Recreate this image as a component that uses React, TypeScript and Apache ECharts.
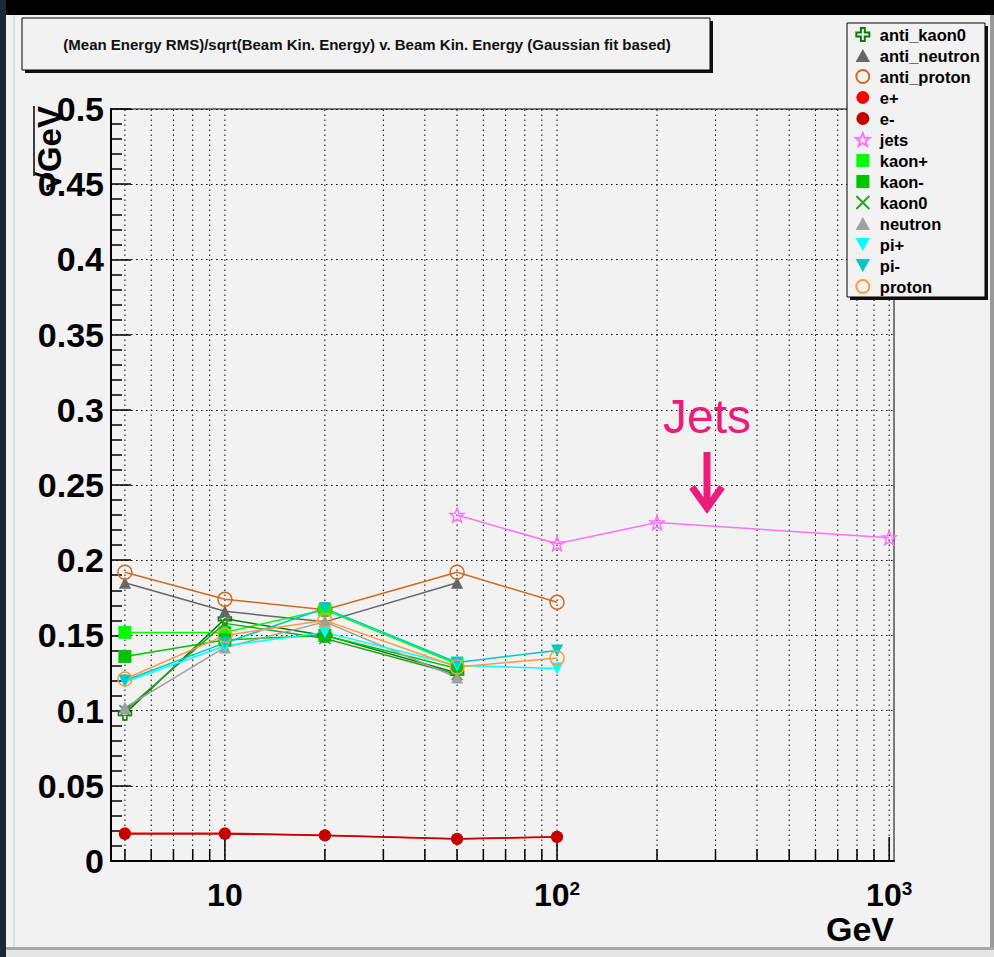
import React, { useEffect, useRef } from 'react';
import * as echarts from 'echarts';

// ---- data ----
const beamEnergies = [5, 10, 20, 50, 100];
const jetEnergies = [50, 100, 200, 1000];

const antiKaon0 = [0.098, 0.161, 0.15, 0.125];
const antiNeutron = [0.185, 0.166, 0.159, 0.185];
const antiProton = [0.192, 0.174, 0.167, 0.192, 0.172];
const ePlus = [0.0185, 0.0185, 0.0172, 0.0148, 0.0162];
const eMinus = [0.018, 0.018, 0.017, 0.0146, 0.016];
const jets = [0.23, 0.211, 0.225, 0.215];
const kaonPlus = [0.152, 0.152, 0.167, 0.131];
const kaonMinus = [0.136, 0.147, 0.15, 0.128];
const kaon0 = [0.1, 0.158, 0.148, 0.124];
const neutron = [0.102, 0.142, 0.159, 0.122];
const piPlus = [0.119, 0.143, 0.152, 0.13, 0.128];
const piMinus = [0.12, 0.145, 0.168, 0.132, 0.14];
const proton = [0.121, 0.15, 0.16, 0.129, 0.135];

const xGridValues = [5, 6, 7, 8, 9, 10, 20, 30, 40, 50, 60, 70, 80, 90, 100, 200, 300, 400, 500, 600, 700, 800, 900, 1000];

const X_MIN = 4.54;
const X_MAX = 1034;
const Y_MIN = 0;
const Y_MAX = 0.5;
const Y_STEP = 0.05;

const TITLE = '(Mean Energy RMS)/sqrt(Beam Kin. Energy) v. Beam Kin. Energy (Gaussian fit based)';
const FONT = '"Liberation Sans", Arial, Helvetica, sans-serif';

const MARK = {
  circle: 'path://M10,5A5,5,0,1,1,0,5A5,5,0,1,1,10,5Z',
  openCircle: 'path://M10,5A5,5,0,1,1,0,5A5,5,0,1,1,10,5Z',
  square: 'path://M0,0H10V10H0Z',
  upTriangle: 'path://M5,0L10,9H0Z',
  openCross: 'path://M3.5,0H6.5V3.5H10V6.5H6.5V10H3.5V6.5H0V3.5H3.5Z',
  xMark: 'path://M0,0L10,10M10,0L0,10',
  downTriangle: 'path://M0,0L10,0L5,9Z',
  openStar: 'path://M5,0L6.23,3.3L9.76,3.46L7,5.65L7.94,9.05L5,7.1L2.06,9.05L3,5.65L0.24,3.46L3.77,3.3Z',
};

type Def = { name: string; xs: number[]; ys: number[]; color: string; symbol: string; size: number; open?: boolean };

const defs: Def[] = [
  { name: 'anti_kaon0', xs: beamEnergies, ys: antiKaon0, color: '#0b7a0b', symbol: MARK.openCross, size: 13, open: true },
  { name: 'anti_neutron', xs: beamEnergies, ys: antiNeutron, color: '#666666', symbol: MARK.upTriangle, size: 12 },
  { name: 'anti_proton', xs: beamEnergies, ys: antiProton, color: '#cf6a1c', symbol: MARK.openCircle, size: 14, open: true },
  { name: 'e+', xs: beamEnergies, ys: ePlus, color: '#ff0000', symbol: MARK.circle, size: 12 },
  { name: 'e-', xs: beamEnergies, ys: eMinus, color: '#c40000', symbol: MARK.circle, size: 12 },
  { name: 'jets', xs: jetEnergies, ys: jets, color: '#ff70ff', symbol: MARK.openStar, size: 14, open: true },
  { name: 'kaon+', xs: beamEnergies, ys: kaonPlus, color: '#00ff00', symbol: MARK.square, size: 13 },
  { name: 'kaon-', xs: beamEnergies, ys: kaonMinus, color: '#00c400', symbol: MARK.square, size: 13 },
  { name: 'kaon0', xs: beamEnergies, ys: kaon0, color: '#2aa02a', symbol: MARK.xMark, size: 11, open: true },
  { name: 'neutron', xs: beamEnergies, ys: neutron, color: '#a0a0a0', symbol: MARK.upTriangle, size: 12 },
  { name: 'pi+', xs: beamEnergies, ys: piPlus, color: '#00ffff', symbol: MARK.downTriangle, size: 12 },
  { name: 'pi-', xs: beamEnergies, ys: piMinus, color: '#00c8c8', symbol: MARK.downTriangle, size: 12 },
  { name: 'proton', xs: beamEnergies, ys: proton, color: '#ff9a3c', symbol: MARK.openCircle, size: 14, open: true },
];

const isDecade = (v: number) => {
  const l = Math.log10(v);
  return Math.abs(l - Math.round(l)) < 1e-6;
};

export default function App() {
  const ref = useRef<HTMLDivElement>(null);

  useEffect(() => {
    if (!ref.current) return;
    const chart = echarts.init(ref.current, null, { renderer: 'svg' });

    const lineSeries = defs.map((d) => ({
      name: d.name,
      type: 'line',
      data: d.ys.map((y, i) => [d.xs[i], y]),
      symbol: d.symbol,
      symbolSize: d.size,
      showAllSymbol: true,
      lineStyle: { color: d.color, width: 1.5 },
      itemStyle: d.open
        ? { color: 'rgba(0,0,0,0)', borderColor: d.color, borderWidth: 1.5 }
        : { color: d.color, borderWidth: 0 },
      emphasis: { disabled: true },
      z: 3,
    }));

    const gridSeries = {
      name: '__xgrid',
      type: 'custom',
      silent: true,
      z: 1,
      data: xGridValues.map((v) => [v, Y_MIN]),
      encode: { x: 0, y: 1 },
      renderItem: (_params: any, api: any) => {
        const v = api.value(0);
        const base = api.coord([v, Y_MIN]);
        const top = api.coord([v, Y_MAX]);
        const major = isDecade(v);
        return {
          type: 'group',
          children: [
            {
              type: 'line',
              shape: { x1: base[0], y1: base[1], x2: top[0], y2: top[1] },
              style: { stroke: '#000', lineWidth: 1, lineDash: [1.5, 3.5] },
            },
            {
              type: 'line',
              shape: { x1: base[0], y1: base[1], x2: base[0], y2: base[1] - (major ? 24 : 12) },
              style: { stroke: '#000', lineWidth: 1.5 },
            },
          ],
        };
      },
    };

    const option: any = {
      animation: false,
      backgroundColor: '#f2f2f2',
      textStyle: { fontFamily: FONT },
      grid: {
        left: 111,
        right: 100,
        top: 109,
        bottom: 96,
        show: true,
        borderColor: '#000',
        borderWidth: 1,
        backgroundColor: 'transparent',
        outerBoundsMode: 'none',
        containLabel: false,
      },
      xAxis: {
        type: 'log',
        logBase: 10,
        min: X_MIN,
        max: X_MAX,
        axisLine: { show: true, lineStyle: { color: '#000', width: 2 } },
        axisTick: { show: false },
        splitLine: { show: false },
        axisLabel: {
          interval: 0,
          margin: 18,
          formatter: (v: number) => {
            if (!isDecade(v)) return '';
            const e = Math.round(Math.log10(v));
            return e === 1 ? '{b|10}' : `{b|10}{s|${e}}`;
          },
          rich: {
            b: { fontSize: 32, fontWeight: 'bold', fontFamily: FONT, color: '#000', lineHeight: 32 },
            s: { fontSize: 19, fontWeight: 'bold', fontFamily: FONT, color: '#000', lineHeight: 11, verticalAlign: 'top' },
          },
        },
      },
      yAxis: {
        type: 'value',
        min: Y_MIN,
        max: Y_MAX,
        interval: Y_STEP,
        axisLine: { show: true, lineStyle: { color: '#000', width: 2 } },
        axisTick: { show: true, inside: true, length: 20, lineStyle: { color: '#000', width: 1.5 } },
        minorTick: { show: true, splitNumber: 5, length: 11, lineStyle: { color: '#000', width: 1.5 } },
        splitLine: { show: true, lineStyle: { color: '#000', width: 1, type: [1.5, 3.5] } },
        axisLabel: {
          margin: 7,
          fontSize: 34,
          fontWeight: 'bold',
          fontFamily: FONT,
          color: '#000',
          formatter: (v: number) => (v === 0 ? '0' : String(parseFloat(v.toFixed(2)))),
        },
      },
      legend: {
        show: true,
        orient: 'vertical',
        left: 847,
        top: 23,
        padding: [3, 0, 3, 8],
        itemGap: 4,
        itemWidth: 24,
        itemHeight: 13,
        selectedMode: false,
        textStyle: { fontSize: 16.5, fontWeight: 'bold', color: '#000', fontFamily: FONT, lineHeight: 17 },
        data: defs.map((d) => ({ name: d.name, icon: d.symbol })),
        z: 20,
      },
      graphic: [
        // canvas frame
        { type: 'rect', z: -10, shape: { x: 0, y: 0, width: 994, height: 15 }, style: { fill: '#000' } },
        { type: 'rect', z: -10, shape: { x: 0, y: 0, width: 6, height: 957 }, style: { fill: '#1c2838' } },
        { type: 'line', z: -10, shape: { x1: 14, y1: 15, x2: 14, y2: 947 }, style: { stroke: '#c4c4c4', lineWidth: 1 } },
        { type: 'rect', z: -10, shape: { x: 6, y: 947, width: 988, height: 3 }, style: { fill: '#a8a8a8' } },
        { type: 'rect', z: -10, shape: { x: 6, y: 950, width: 988, height: 7 }, style: { fill: '#e6e6e6' } },
        { type: 'rect', z: -10, shape: { x: 990, y: 15, width: 4, height: 932 }, style: { fill: '#9a9a9a' } },
        // title box
        { type: 'rect', z: 5, shape: { x: 25, y: 21, width: 688, height: 52 }, style: { fill: '#111' } },
        { type: 'rect', z: 6, shape: { x: 22, y: 18, width: 688, height: 52 }, style: { fill: '#f2f2f2', stroke: '#000', lineWidth: 1 } },
        {
          type: 'text', z: 7, x: 367, y: 44,
          style: { text: TITLE, font: `bold 15px ${FONT}`, fill: '#111', align: 'center', verticalAlign: 'middle' },
        },
        // legend box
        { type: 'rect', z: 5, shape: { x: 850, y: 26, width: 138, height: 274 }, style: { fill: '#111' } },
        { type: 'rect', z: 6, shape: { x: 847, y: 23, width: 138, height: 274 }, style: { fill: '#f2f2f2', stroke: '#000', lineWidth: 1 } },
        // axis titles
        {
          type: 'text', z: 7, x: 49, y: 106, rotation: Math.PI / 2,
          style: { text: '√GeV', font: `bold 33px ${FONT}`, fill: '#000', align: 'right', verticalAlign: 'middle' },
        },
        { type: 'line', z: 7, shape: { x1: 34, y1: 106, x2: 34, y2: 176 }, style: { stroke: '#000', lineWidth: 1.5 } },
        {
          type: 'text', z: 7, x: 894, y: 929,
          style: { text: 'GeV', font: `bold 34px ${FONT}`, fill: '#000', align: 'right', verticalAlign: 'middle' },
        },
        // Jets annotation
        {
          type: 'text', z: 30, x: 663, y: 416,
          style: { text: 'Jets', font: `48px ${FONT}`, fill: '#e91e7b', align: 'left', verticalAlign: 'middle' },
        },
        { type: 'line', z: 30, shape: { x1: 707, y1: 452, x2: 707, y2: 508 }, style: { stroke: '#e91e7b', lineWidth: 7 } },
        {
          type: 'polyline', z: 30,
          shape: { points: [[692, 487], [707, 508], [722, 487]] },
          style: { stroke: '#e91e7b', lineWidth: 7, fill: 'none', lineJoin: 'miter', lineCap: 'butt' },
        },
      ],
      series: [gridSeries, ...lineSeries],
    };

    chart.setOption(option);
    return () => chart.dispose();
  }, []);

  return <div ref={ref} style={{ position: 'absolute', left: 0, top: 0, width: 994, height: 957 }} />;
}
